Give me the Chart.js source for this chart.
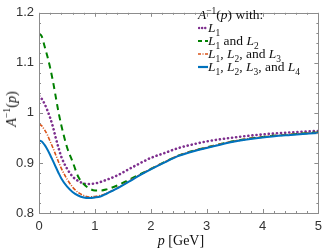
<!DOCTYPE html>
<html>
<head>
<meta charset="utf-8">
<script src="https://cdn.jsdelivr.net/npm/chart.js@4.4.1/dist/chart.umd.min.js"></script>
<style>
  html, body { margin: 0; padding: 0; background: #fff; }
  #wrap { position: relative; width: 328px; height: 249px; }
  canvas { position: absolute; left: 0; top: 0; }
  .tex { position: absolute; font-family: "Liberation Serif", "Times New Roman", serif; color: #111; white-space: nowrap; }
  .tex i { font-style: italic; }
  .tex sub, .tex sup { font-size: 70%; line-height: 0; }
  #ytitle { font-size: 14px; left: 12px; top: 109px; transform: translate(-50%, -50%) rotate(-90deg); }
  #xtitle { font-size: 14px; left: 181px; top: 241px; transform: translate(-50%, -50%); }
  #legend { position: absolute; left: 198px; top: 8px; font-family: "Liberation Serif", "Times New Roman", serif; font-size: 13.5px; color: #111; }
  #legend .row { height: 13px; line-height: 13px; white-space: nowrap; display: flex; align-items: center; }
  #legend .row svg { width: 10px; height: 13px; flex: none; }
  #legend i { font-style: italic; }
  #legend sub, #legend sup { font-size: 70%; line-height: 0; }
</style>
</head>
<body>
<div id="wrap">
  <canvas id="c" width="328" height="249"></canvas>
  <div id="ytitle" class="tex"><i>A</i><sup>−1</sup>(<i>p</i>)</div>
  <div id="xtitle" class="tex"><i>p</i> [GeV]</div>
  <div id="legend">
    <div class="row"><span><i>A</i><sup>−1</sup>(<i>p</i>) with:</span></div>
    <div class="row"><svg><line x1="1" y1="7" x2="10" y2="7" stroke="#7E2F8E" stroke-width="2.4" stroke-dasharray="0.1 3" stroke-linecap="round"/></svg><span><i>L</i><sub>1</sub></span></div>
    <div class="row"><svg><line x1="0" y1="7" x2="10" y2="7" stroke="#008000" stroke-width="2.2" stroke-dasharray="4 3"/></svg><span><i>L</i><sub>1</sub> and <i>L</i><sub>2</sub></span></div>
    <div class="row"><svg><line x1="0" y1="7" x2="10" y2="7" stroke="#D95319" stroke-width="1.7" stroke-dasharray="3 1.5 1 1.5"/></svg><span><i>L</i><sub>1</sub>, <i>L</i><sub>2</sub>, and <i>L</i><sub>3</sub></span></div>
    <div class="row"><svg><line x1="0" y1="7" x2="10" y2="7" stroke="#0072BD" stroke-width="2.2"/></svg><span><i>L</i><sub>1</sub>, <i>L</i><sub>2</sub>, <i>L</i><sub>3</sub>, and <i>L</i><sub>4</sub></span></div>
  </div>
</div>
<script>
// momentum values p [GeV]
const pValues = [0, 0.05, 0.1, 0.15, 0.2, 0.25, 0.3, 0.35, 0.4, 0.5, 0.6, 0.7, 0.8, 0.9, 1.0, 1.1, 1.2, 1.4, 1.6, 1.8, 2.0, 2.25, 2.5, 2.75, 3.0, 3.5, 4.0, 4.5, 5.0];
// A^{-1}(p) with L1
const aL1 = [1.034, 1.028, 1.018, 1.005, 0.990, 0.972, 0.950, 0.930, 0.912, 0.889, 0.873, 0.864, 0.859, 0.858, 0.859, 0.862, 0.866, 0.875, 0.887, 0.899, 0.910, 0.920, 0.930, 0.937, 0.943, 0.951, 0.957, 0.961, 0.964];
// A^{-1}(p) with L1 and L2
const aL12 = [1.159, 1.153, 1.133, 1.113, 1.090, 1.063, 1.032, 1.001, 0.975, 0.932, 0.903, 0.873, 0.858, 0.849, 0.845, 0.845, 0.847, 0.855, 0.866, 0.877, 0.888, 0.902, 0.915, 0.924, 0.931, 0.944, 0.952, 0.957, 0.961];
// A^{-1}(p) with L1, L2, L3
const aL123 = [0.977, 0.974, 0.966, 0.956, 0.943, 0.930, 0.916, 0.902, 0.889, 0.868, 0.852, 0.841, 0.835, 0.832, 0.833, 0.835, 0.839, 0.850, 0.863, 0.876, 0.888, 0.902, 0.915, 0.924, 0.931, 0.944, 0.952, 0.957, 0.961];
// A^{-1}(p) with L1, L2, L3, L4
const aL1234 = [0.945, 0.943, 0.936, 0.927, 0.916, 0.904, 0.892, 0.880, 0.869, 0.853, 0.842, 0.835, 0.831, 0.830, 0.831, 0.833, 0.838, 0.849, 0.862, 0.875, 0.887, 0.901, 0.914, 0.923, 0.930, 0.943, 0.951, 0.956, 0.960];

const xTicks = [0, 1, 2, 3, 4, 5];
const yTicks = [0.8, 0.9, 1, 1.1, 1.2];
const xMinorStep = 0.2;
const yMinorStep = 0.02;

const toXY = arr => arr.map((v, i) => ({ x: pValues[i], y: v }));

const boxPlugin = {
  id: 'box',
  afterDraw(chart) {
    const { ctx, chartArea: a } = chart;
    const xs = chart.scales.x, ys = chart.scales.y;
    ctx.save();
    ctx.strokeStyle = '#8c8c8c';
    ctx.lineWidth = 1;
    ctx.strokeRect(Math.round(a.left) + 0.5, Math.round(a.top) + 0.5, Math.round(a.right - a.left), Math.round(a.bottom - a.top));
    ctx.beginPath();
    const eps = 1e-6;
    for (let v = xs.min; v <= xs.max + eps; v += xMinorStep) {
      const major = xTicks.some(t => Math.abs(t - v) < 1e-6);
      const len = major ? 4 : 2;
      const px = Math.round(xs.getPixelForValue(v)) + 0.5;
      ctx.moveTo(px, a.bottom); ctx.lineTo(px, a.bottom - len);
      ctx.moveTo(px, a.top); ctx.lineTo(px, a.top + len);
    }
    for (let v = ys.min; v <= ys.max + eps; v += yMinorStep) {
      const major = yTicks.some(t => Math.abs(t - v) < 1e-6);
      const len = major ? 4 : 2;
      const py = Math.round(ys.getPixelForValue(v)) + 0.5;
      ctx.moveTo(a.left, py); ctx.lineTo(a.left + len, py);
      ctx.moveTo(a.right, py); ctx.lineTo(a.right - len, py);
    }
    ctx.stroke();
    ctx.restore();
  }
};

new Chart(document.getElementById('c'), {
  type: 'line',
  data: {
    datasets: [
      { label: 'L1, L2, L3, and L4', data: toXY(aL1234), borderColor: '#0072BD', borderWidth: 2 },
      { label: 'L1, L2, and L3', data: toXY(aL123), borderColor: '#D95319', borderWidth: 1.6, borderDash: [4, 1.5, 1, 1.5] },
      { label: 'L1 and L2', data: toXY(aL12), borderColor: '#008000', borderWidth: 2, borderDash: [6, 4.5] },
      { label: 'L1', data: toXY(aL1), borderColor: '#7E2F8E', borderWidth: 2.6, borderDash: [0.1, 4], borderCapStyle: 'round' }
    ]
  },
  options: {
    responsive: false,
    animation: false,
    devicePixelRatio: 1,
    elements: { point: { radius: 0 }, line: { cubicInterpolationMode: 'monotone' } },
    layout: { padding: { top: 0, right: 2, left: 0, bottom: 0 } },
    plugins: { legend: { display: false }, tooltip: { enabled: false } },
    scales: {
      x: {
        type: 'linear', min: 0, max: 5,
        grid: { display: false, drawTicks: false }, border: { display: false },
        afterBuildTicks: s => { s.ticks = xTicks.map(v => ({ value: v })); },
        afterFit: s => { s.height = 36; },
        ticks: { color: '#333', font: { family: 'Liberation Sans', size: 13 }, padding: 6, maxRotation: 0,
                 callback: v => String(v) }
      },
      y: {
        type: 'linear', min: 0.8, max: 1.2,
        grid: { display: false, drawTicks: false }, border: { display: false },
        afterBuildTicks: s => { s.ticks = yTicks.map(v => ({ value: v })); },
        afterFit: s => { s.width = 39; },
        ticks: { color: '#333', font: { family: 'Liberation Sans', size: 13 }, padding: 5,
                 callback: v => String(+Number(v).toFixed(2)) }
      }
    }
  },
  plugins: [boxPlugin]
});
</script>
</body>
</html>
